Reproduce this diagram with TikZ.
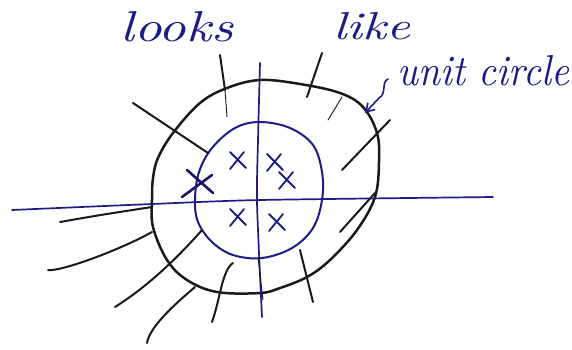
\documentclass[tikz,border=0pt]{standalone}
\usetikzlibrary{arrows.meta}
\definecolor{ink}{HTML}{1E1C84}
\definecolor{pen}{HTML}{1A1A1A}
\tikzset{
  bluepen/.style={draw=ink, line width=2pt, line cap=round, line join=round},
  blackpen/.style={draw=pen, line width=2.5pt, line cap=round, line join=round},
  ray/.style={draw=pen, line width=2pt, line cap=round},
  cross/.style={draw=ink, line width=1.8pt, line cap=round},
  hand/.style={text=ink, inner sep=0pt, font=\itshape}
}
\begin{document}
\begin{tikzpicture}[x=1pt,y=-1pt]
\useasboundingbox[fill=white] (0,0) rectangle (572,349);
% outer black closed curve
\draw[blackpen] plot[smooth cycle, tension=0.6] coordinates {
 (260,80) (300,84) (340,93) (363,107) (377,133) (379,162) (375,197)
 (357,230) (330,260) (307,277) (280,288) (260,293) (217,292) (187,280)
 (167,260) (153,227) (152,200) (153,178) (158,158) (173,133) (200,103) (227,88)};
% inner blue closed curve
\draw[bluepen] plot[smooth cycle, tension=0.6] coordinates {
 (260,122) (290,128) (313,145) (322,172) (322,200) (313,228) (292,248)
 (262,258) (233,255) (212,242) (198,222) (195,200) (199,172) (212,148) (235,128)};
% axes
\draw[bluepen, line width=1.7pt] plot[smooth, tension=0.4] coordinates {(12,210) (152,204) (260,200) (493,197)};
\draw[bluepen, line width=1.7pt] plot[smooth, tension=0.4] coordinates {(260,63) (258,140) (257,203) (262,317)};
% rays
\draw[ray] (220,55) -- (225,90);
\draw[ray, line width=0.9pt] (225,90) -- (227,117);
\draw[ray] (133,103) -- (208,153);
\draw[ray] (60,222) .. controls (100,215) .. (152,207);
\draw[ray] (48,270) .. controls (60,272) and (120,250) .. (152,232);
\draw[ray] (115,307) .. controls (150,285) and (180,255) .. (202,230);
\draw[ray] (147,343) .. controls (150,325) and (180,300) .. (195,287);
\draw[ray] (212,322) .. controls (220,300) and (222,270) .. (233,263);
\draw[ray, line width=0.9pt] (258,257) -- (263,300);
\draw[ray] (300,250) -- (313,302);
\draw[ray] (322,53) -- (307,97);
\draw[ray, line width=0.9pt] (342,97) -- (328,120);
\draw[ray] (390,120) -- (342,170);
\draw[ray] (375,193) -- (340,232);
% crosses
\foreach \cx/\cy in {238/160, 275/162, 287/180, 238/217, 277/222} {
  \draw[cross] (\cx-8,\cy-8) -- (\cx+8,\cy+8);
  \draw[cross] (\cx+6,\cy-8) -- (\cx-8,\cy+9);
}
\draw[cross, line width=2.6pt, draw=ink!80!black] (187,170) -- (213,193);
\draw[cross, line width=2.6pt, draw=ink!80!black] (182,197) -- (212,175);
% labels
\node[hand, anchor=west] (looks) at (120,27) {\resizebox{113pt}{30pt}{looks}};
\node[hand, anchor=west] (like) at (333,26) {\resizebox{77pt}{27pt}{like}};
\node[hand, anchor=west] (unit) at (397,71) {\resizebox{172pt}{30pt}{unit circle}};
\coordinate (tail) at (388,79);
\coordinate (tip) at (365,113);
\draw[draw=ink, line width=1.6pt, line cap=round, -{Straight Barb[length=8pt,width=10pt]}]
  (tail) .. controls (381,82) and (387,94) .. (379,98) -- (tip);
\end{tikzpicture}
\end{document}
